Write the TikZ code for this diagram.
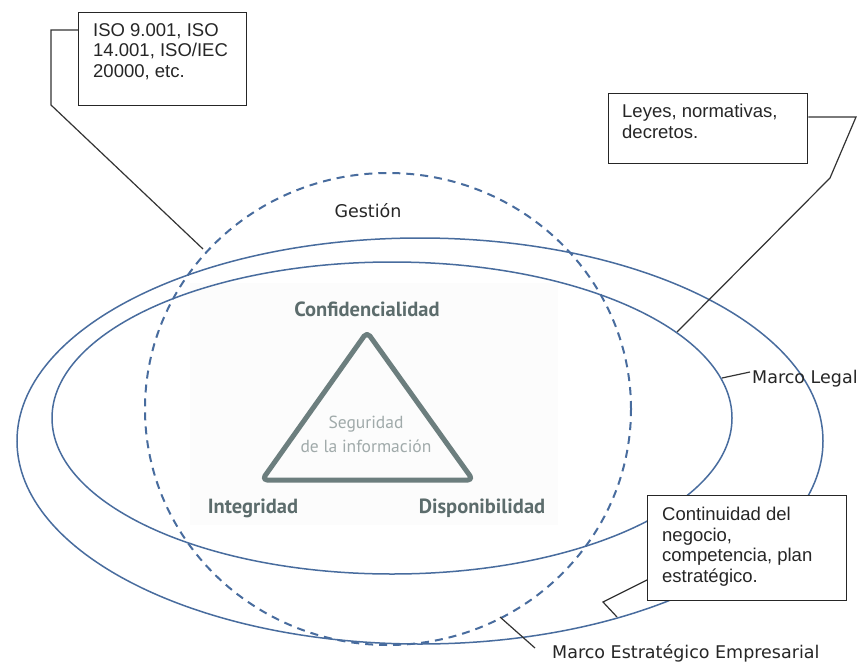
\documentclass[tikz,border=0pt]{standalone}
\usepackage{fontspec}
\newfontfamily\arialf{Liberation Sans}
\newfontfamily\dejaf{DejaVu Sans}
\newfontfamily\ptsf{PT Sans}
\usetikzlibrary{shapes.geometric}
\definecolor{ellblue}{RGB}{72,108,158}
\definecolor{trigray}{RGB}{108,126,126}
\definecolor{trilabel}{RGB}{92,108,108}
\definecolor{trilight}{RGB}{160,170,170}
\begin{document}
\begin{tikzpicture}[x=1pt,y=-1pt,
  ell/.style={draw=ellblue, line width=1.5pt, ellipse, inner sep=0pt},
  gest/.style={draw=ellblue, line width=2pt, ellipse, inner sep=0pt, dash pattern=on 8pt off 6pt},
  callbox/.style={draw=black!85, line width=1.3pt, fill=white, rectangle, inner sep=0pt, anchor=north west},
  calltext/.style={inner sep=0pt, align=left, font=\arialf\fontsize{18.5}{20.5}\selectfont, text=black!85, anchor=north west},
  leader/.style={draw=black!80, line width=1.2pt},
  lbl/.style={inner sep=0pt, font=\dejaf\fontsize{17.5}{20}\selectfont, text=black!85},
  tri/.style={draw=trigray, line width=5pt, rounded corners=5pt, line join=round},
  trilbl/.style={inner sep=0pt, anchor=base, font=\ptsf\bfseries\fontsize{20.5}{22}\selectfont, text=trilabel},
  trictr/.style={inner sep=0pt, align=center, font=\ptsf\fontsize{17.5}{24}\selectfont, text=trilight}
]
\fill[white] (0,0) rectangle (865,664);
\useasboundingbox (0,0) rectangle (865,664);
\fill[black!1] (190,283) rectangle (558,525);

% ellipses
\node[ell, minimum width=806pt, minimum height=406pt] (mee) at (420,441) {};
\node[ell, minimum width=680pt, minimum height=312pt] (ml) at (392,418) {};
\node[gest, minimum width=486pt, minimum height=472pt] (gst) at (388,409) {};

% triangle
\draw[tri] (367,332) -- (473,480) -- (262,480) -- cycle;
\node[trilbl] (conf) at (367,316) {Confidencialidad};
\node[trilbl] (integ) at (253,513) {Integridad};
\node[trilbl] (disp) at (482,513) {Disponibilidad};
\node[trictr] (seg) at (366,434) {Seguridad\\de la información};

% labels
\node[lbl, anchor=base] (gesttxt) at (368,217) {Gestión};
\node[lbl, anchor=base west] (mltxt) at (752,383) {Marco Legal};
\node[lbl, anchor=base west] (meetxt) at (552,658) {Marco Estratégico Empresarial};

% callout boxes
\node[callbox, minimum width=168pt, minimum height=93pt] (iso) at (78,12) {};
\node[calltext] (isotxt) at ([xshift=15pt,yshift=-11pt]iso.north west) {ISO 9.001, ISO\\14.001, ISO/IEC\\20000, etc.};
\node[callbox, minimum width=199pt, minimum height=70pt] (ley) at (608,93) {};
\node[calltext] (leytxt) at ([xshift=14pt,yshift=-11pt]ley.north west) {Leyes, normativas,\\decretos.};
\node[callbox, minimum width=199pt, minimum height=105pt] (cont) at (647,495) {};
\node[calltext] (conttxt) at ([xshift=15pt,yshift=-12pt]cont.north west) {Continuidad del\\negocio,\\competencia, plan\\estratégico.};

% leaders
\coordinate (isoend) at (203,249);
\draw[leader] ([yshift=-18pt]iso.north west) -- (51,30) -- (51,105) -- (isoend);
\coordinate (leyend) at (677,332);
\draw[leader] ([yshift=-24pt]ley.north east) -- (856,117) -- (830,178) -- (leyend);
\coordinate (contend) at (617,617);
\draw[leader] ([yshift=-85pt]cont.north west) -- (603,602) -- (contend);
\coordinate (mlend) at (722,378);
\draw[leader] (mlend) -- ([xshift=-2pt,yshift=11pt]mltxt.base west);
\coordinate (meeend) at (500,617);
\draw[leader] (meeend) -- ([xshift=-17pt,yshift=10pt]meetxt.base west);
\end{tikzpicture}
\end{document}
